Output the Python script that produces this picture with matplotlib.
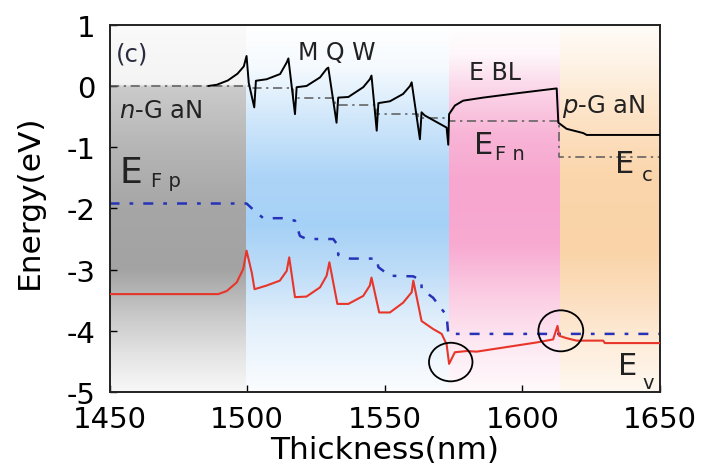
import matplotlib.pyplot as plt
import numpy as np
from matplotlib.colors import to_rgb
from matplotlib.patches import Ellipse

plt.rcParams['font.family'] = 'DejaVu Sans'
plt.rcParams['axes.unicode_minus'] = False
plt.rcParams['mathtext.fontset'] = 'dejavusans'

# layer boundaries (nm)
edges = [1450, 1499.5, 1573.4, 1613.8, 1650]

# conduction band
cb_x = [1486, 1489, 1493, 1496.5, 1498.8, 1499.8, 1500.6, 1502.6, 1503.2, 1507.1, 1512.0, 1514.4,
        1515.0, 1517.4, 1518.0, 1521.6, 1526.5, 1528.9, 1529.5, 1532.5, 1533.1, 1536.8, 1542.2,
        1544.6, 1545.2, 1547.1, 1547.7, 1551.9, 1556.7, 1559.2, 1559.8, 1562.8, 1563.4, 1564.5,
        1572.5, 1573.1, 1573.4, 1575.5, 1578.5, 1585.8, 1597.9, 1612.5, 1613.1, 1616.1, 1622.2,
        1623.4, 1650]
cb_y = [0.0, 0.02, 0.09, 0.2, 0.32, 0.49, 0.05, -0.35, 0.085, 0.11, 0.195, 0.385,
        0.45, -0.46, -0.02, 0.0, 0.14, 0.28, 0.30, -0.60, -0.19, -0.18, -0.02,
        0.11, 0.17, -0.73, -0.28, -0.25, -0.13, 0.0, 0.06, -0.87, -0.43, -0.48,
        -0.68, -0.96, -0.46, -0.32, -0.24, -0.19, -0.12, -0.04, -0.60, -0.70, -0.77,
        -0.80, -0.80]

# electron quasi-Fermi level
efn_x = [1450, 1501, 1501, 1516.5, 1516.5, 1532, 1532, 1547, 1547, 1562, 1562, 1573.4, 1573.4,
         1613.5, 1613.5, 1650]
efn_y = [0.0, 0.0, -0.04, -0.04, -0.20, -0.20, -0.31, -0.31, -0.46, -0.46, -0.52, -0.52, -0.57,
         -0.57, -1.16, -1.16]

# hole quasi-Fermi level
efp_x = [1450, 1499.8, 1502.7, 1505.9, 1512.6, 1517.4, 1519.2, 1521.6, 1531.3, 1533.1, 1533.1,
         1537.4, 1547.1, 1547.7, 1551.9, 1560.4, 1563.4, 1563.4, 1567.6, 1572.5, 1573.1, 1650]
efp_y = [-1.92, -1.92, -2.04, -2.16, -2.16, -2.20, -2.45, -2.50, -2.50, -2.61, -2.76,
         -2.82, -2.82, -2.96, -3.10, -3.11, -3.18, -3.32, -3.46, -3.75, -4.05, -4.05]

# valence band
vb_x = [1450, 1489.5, 1492.6, 1496.2, 1498.6, 1499.8, 1501.7, 1502.7, 1507.1, 1511.9, 1514.4,
        1515.3, 1517.4, 1521.6, 1526.5, 1528.9, 1529.9, 1532.8, 1536.8, 1542.2, 1544.6, 1545.2,
        1548.0, 1551.9, 1556.7, 1559.8, 1560.4, 1563.4, 1567.6, 1570.7, 1572.5, 1573.4, 1575.5,
        1579.8, 1583.4, 1605.2, 1611.2, 1612.8, 1613.4, 1616.1, 1619.7, 1629.4, 1630.0, 1650]
vb_y = [-3.40, -3.40, -3.35, -3.21, -2.99, -2.69, -3.05, -3.32, -3.26, -3.18, -3.02,
        -2.80, -3.45, -3.44, -3.29, -3.10, -2.88, -3.56, -3.56, -3.43, -3.26, -3.13,
        -3.70, -3.70, -3.54, -3.37, -3.18, -3.84, -3.97, -4.05, -4.22, -4.54, -4.35,
        -4.33, -4.34, -4.19, -4.14, -3.92, -4.08, -4.12, -4.16, -4.16, -4.20, -4.20]

# background shading of each layer: (energy, colour) stops
shade_ngan = [(1, '#fafafa'), (0.02, '#f4f4f4'), (-0.02, '#cbcbcb'), (-1, '#b6b6b6'),
              (-2, '#a6a6a6'), (-3, '#a3a3a3'), (-3.7, '#c6c6c6'), (-4.4, '#e4e4e4'),
              (-5, '#f8f8f8')]
shade_mqw = [(1, '#ffffff'), (0.3, '#f5fafe'), (-0.5, '#d2e8fb'), (-1.5, '#acd4f7'),
             (-2.3, '#a6d1f6'), (-3.0, '#bddcf8'), (-3.8, '#e0eefb'), (-5, '#fbfdff')]
shade_ebl = [(1, '#ffffff'), (0.5, '#fef6fa'), (0, '#fbd9ea'), (-0.8, '#f8b4d6'),
             (-1.6, '#f7a6cf'), (-2.6, '#f8aad1'), (-3.4, '#fbcce3'), (-4.2, '#fde8f2'),
             (-5, '#fffafc')]
shade_pgan = [(1, '#fffcf8'), (0.3, '#fef2e4'), (-0.5, '#fde3c6'), (-1.5, '#fbd5ab'),
              (-2.7, '#fad4a8'), (-3.5, '#fcdfc0'), (-4.3, '#feeedd'), (-5, '#fff8f0')]

fig = plt.figure(figsize=(7.02, 4.77), dpi=100)
ax = fig.add_axes([0.156, 0.176, 0.784, 0.770])


def shade(x0, x1, stops):
    e = np.linspace(1, -5, 600)
    lev = np.array([s[0] for s in stops])[::-1]
    cols = np.array([to_rgb(s[1]) for s in stops])[::-1]
    img = np.stack([np.interp(e, lev, cols[:, k]) for k in range(3)], axis=-1)
    ax.imshow(img[:, None, :], extent=(x0, x1, -5, 1), aspect='auto',
              interpolation='bilinear', zorder=0)


for (x0, x1), st in zip(zip(edges[:-1], edges[1:]),
                        [shade_ngan, shade_mqw, shade_ebl, shade_pgan]):
    shade(x0, x1, st)

ax.plot(efn_x, efn_y, color='#5a5a5a', lw=1.1, dashes=(6, 3, 1.5, 3), zorder=2)
ax.plot(cb_x, cb_y, color='black', lw=1.4, zorder=3)
ax.plot(efp_x, efp_y, color='#2633b8', lw=1.8, dashes=(4, 4, 1.5, 4), zorder=2)
ax.plot(vb_x, vb_y, color='#e8352a', lw=1.5, zorder=3)

ax.add_patch(Ellipse((1574.0, -4.51), 15.8, 0.63, fill=False, ec='black', lw=1.3, zorder=4))
ax.add_patch(Ellipse((1614.0, -4.00), 16.3, 0.67, fill=False, ec='black', lw=1.3, zorder=4))

txt = '#222222'
ax.text(1452.3, 0.42, '(c)', fontsize=17.5, color='#2b2b40')
ax.text(1532.7, 0.44, 'M Q W', fontsize=17, ha='center', color=txt)
ax.text(1590.0, 0.11, 'E BL', fontsize=17, ha='center', color=txt)
ax.text(1453.5, -0.51, r'$n$-G aN', fontsize=17.5, color=txt)
ax.text(1614.5, -0.43, r'$p$-G aN', fontsize=17.5, color=txt)

ax.text(1453.5, -1.57, 'E', fontsize=26, color=txt)
ax.text(1465.0, -1.64, 'F p', fontsize=14, color=txt)
ax.text(1582.3, -1.10, 'E', fontsize=22, color=txt)
ax.text(1590.0, -1.19, 'F n', fontsize=14, color=txt)
ax.text(1633.8, -1.41, 'E', fontsize=22, color=txt)
ax.text(1643.3, -1.53, 'c', fontsize=14, color=txt)
ax.text(1634.8, -4.71, 'E', fontsize=22, color=txt)
ax.text(1643.8, -4.93, 'v', fontsize=14, color=txt)

ax.set_xlim(1450, 1650)
ax.set_ylim(-5, 1)
ax.set_xticks([1450, 1500, 1550, 1600, 1650])
ax.set_yticks([1, 0, -1, -2, -3, -4, -5])
ax.tick_params(direction='in', length=5, width=1, labelsize=21, top=False, right=False)
ax.tick_params(axis='x', pad=9)
ax.tick_params(axis='y', pad=10)
for sp in ax.spines.values():
    sp.set_linewidth(1.4)
    sp.set_color('#222222')

ax.set_xlabel('Thickness(nm)', fontsize=22.5)
ax.set_ylabel('Energy(eV)', fontsize=22.5)
ax.xaxis.set_label_coords(0.5, -0.117)
ax.yaxis.set_label_coords(-0.12, 0.52)

fig.savefig('out.png', dpi=100)
